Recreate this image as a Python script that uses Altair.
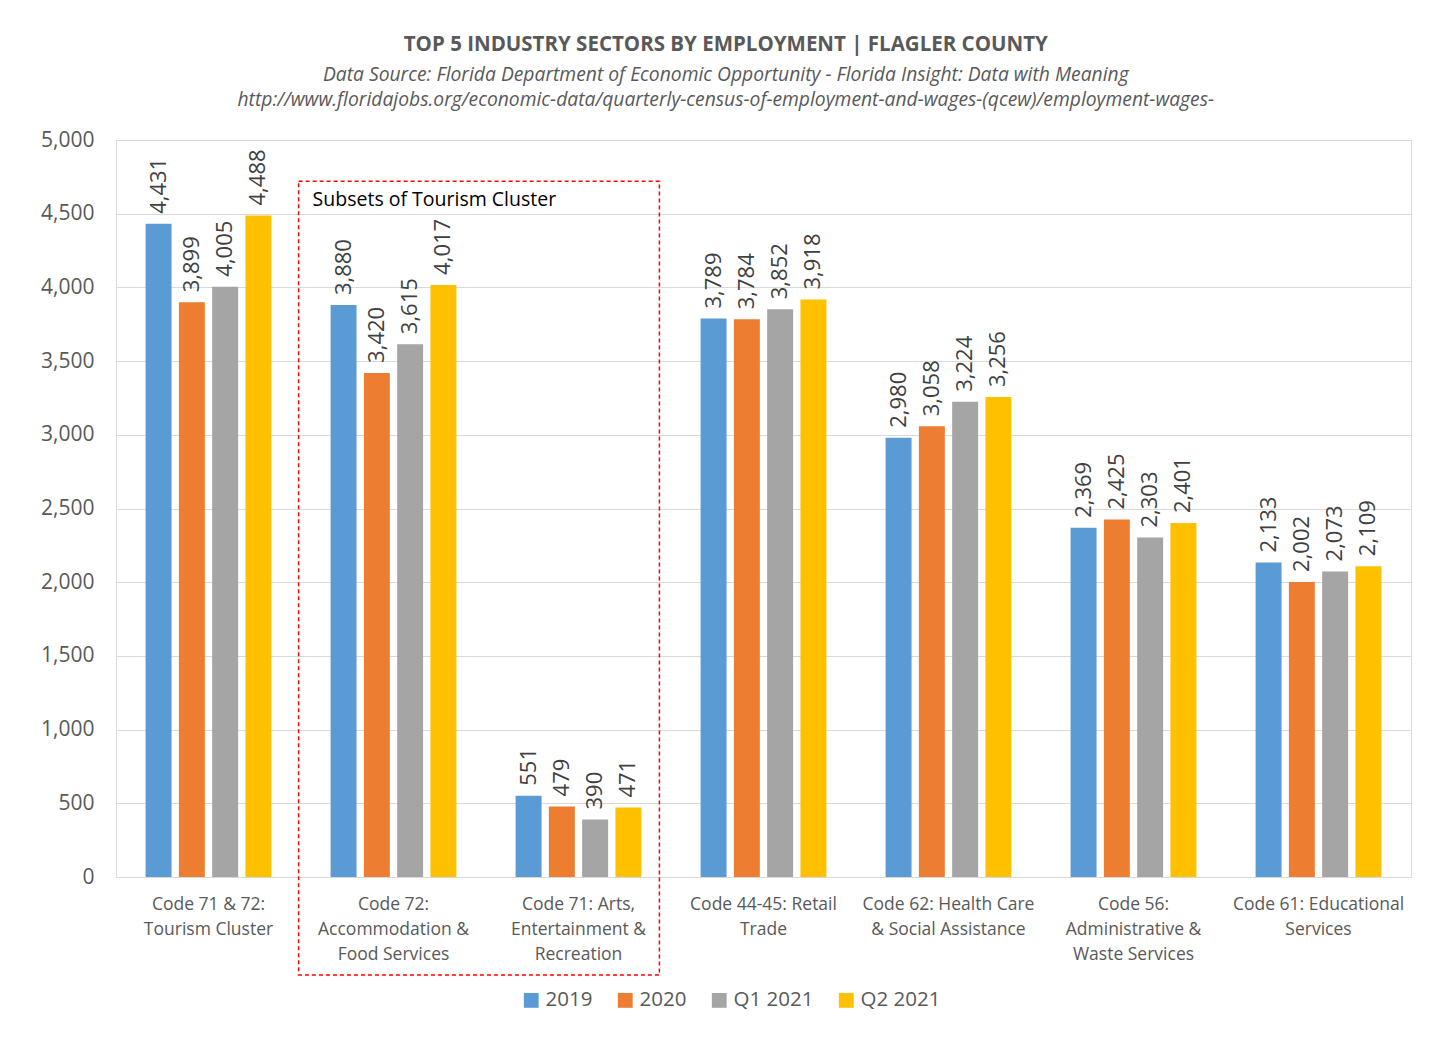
import altair as alt
import pandas as pd

categories = [
    "Code 71 & 72:\nTourism Cluster",
    "Code 72:\nAccommodation &\nFood Services",
    "Code 71:  Arts,\nEntertainment &\nRecreation",
    "Code 44-45:  Retail\nTrade",
    "Code 62:  Health Care\n& Social Assistance",
    "Code 56:\nAdministrative &\nWaste Services",
    "Code 61:  Educational\nServices",
]
series = ["2019", "2020", "Q1 2021", "Q2 2021"]
v2019 = [4431, 3880, 551, 3789, 2980, 2369, 2133]
v2020 = [3899, 3420, 479, 3784, 3058, 2425, 2002]
vq1 = [4005, 3615, 390, 3852, 3224, 2303, 2073]
vq2 = [4488, 4017, 471, 3918, 3256, 2401, 2109]
colors = ["#5B9BD5", "#ED7D31", "#A5A5A5", "#FFC000"]

box_label = "Subsets of Tourism Cluster"
box_top = 4720
box_bottom = -665
box_text_y = 4590

title_text = "TOP 5 INDUSTRY SECTORS BY EMPLOYMENT | FLAGLER COUNTY"
subtitle_lines = [
    "Data Source:  Florida Department of Economic Opportunity - Florida Insight:  Data with Meaning",
    "http://www.floridajobs.org/economic-data/quarterly-census-of-employment-and-wages-(qcew)/employment-wages-",
]

rows = []
for s, vals in zip(series, [v2019, v2020, vq1, vq2]):
    for c, v in zip(categories, vals):
        rows.append({"cat": c, "series": s, "value": v})
df = pd.DataFrame(rows)

box_df = pd.DataFrame({
    "start": [categories[1]], "end": [categories[2]],
    "top": [box_top], "bottom": [box_bottom], "ty": [box_text_y], "label": [box_label],
})

FONT = "Open Sans"
GRAY = "#595959"

x_enc = alt.X(
    "cat:N", sort=categories,
    scale=alt.Scale(domain=categories, paddingInner=0.32, paddingOuter=0.16),
    axis=alt.Axis(
        title=None, labelAngle=0, labelFontSize=17.5, labelColor=GRAY, labelFont=FONT,
        labelExpr="split(datum.label, '\\n')", labelLineHeight=25, labelPadding=18,
        ticks=False, domainColor="#d9d9d9", labelLimit=250, grid=False,
    ),
)
y_enc = alt.Y(
    "value:Q", scale=alt.Scale(domain=[0, 5000]),
    axis=alt.Axis(
        title=None, values=list(range(0, 5001, 500)), format=",.0f", labelFontSize=21,
        labelColor=GRAY, labelFont=FONT, domain=False, ticks=False, labelPadding=22,
        gridColor="#d9d9d9",
    ),
)
xoff = alt.XOffset("series:N", sort=series, scale=alt.Scale(paddingInner=0.22, paddingOuter=0))
color = alt.Color(
    "series:N", sort=series, scale=alt.Scale(domain=series, range=colors),
    legend=alt.Legend(
        title=None, orient="none", legendX=405, legendY=850, direction="horizontal",
        symbolType="square", symbolSize=220, symbolStrokeWidth=0, labelFontSize=20.5,
        labelColor=GRAY, labelFont=FONT, columnPadding=22,
    ),
)

bars = alt.Chart(df).mark_bar().encode(x=x_enc, xOffset=xoff, y=y_enc, color=color)

labels = alt.Chart(df).mark_text(
    angle=270, align="left", baseline="middle", dx=10, fontSize=22, color="#404040", font=FONT
).encode(
    x=alt.X("cat:N", sort=categories),
    xOffset=alt.XOffset("series:N", sort=series),
    y="value:Q",
    text=alt.Text("value:Q", format=",.0f"),
)

box = alt.Chart(box_df).mark_rect(
    fill="transparent", stroke="#FF0000", strokeDash=[4, 3], strokeWidth=1.5, clip=False,
    xOffset=-32, x2Offset=18,
).encode(
    x=alt.X("start:N", bandPosition=0),
    x2=alt.X2("end", bandPosition=1),
    y=alt.Y("top:Q"),
    y2=alt.Y2("bottom"),
)

box_text = alt.Chart(box_df).mark_text(
    align="left", baseline="middle", dx=-18, fontSize=19.5, color="#000000", font=FONT
).encode(
    x=alt.X("start:N", bandPosition=0),
    y=alt.Y("ty:Q"),
    text="label:N",
)

chart = alt.layer(bars, labels, box, box_text).properties(
    width=1295, height=737,
    title=alt.TitleParams(
        text=title_text, subtitle=subtitle_lines, fontSize=20.5, font=FONT, fontWeight="bold",
        color=GRAY, subtitleFont=FONT, subtitleFontSize=19.3, subtitleFontStyle="italic",
        subtitleColor=GRAY, subtitlePadding=10, subtitleLineHeight=25, offset=19,
        anchor="middle", frame="bounds",
    ),
    padding={"left": 32, "top": 27, "right": 20, "bottom": 20},
).configure_view(strokeWidth=0, stroke="transparent").configure_axisX(grid=False).configure(background="white")

chart.save("out.html", embed_options={"renderer": "svg", "actions": False})
